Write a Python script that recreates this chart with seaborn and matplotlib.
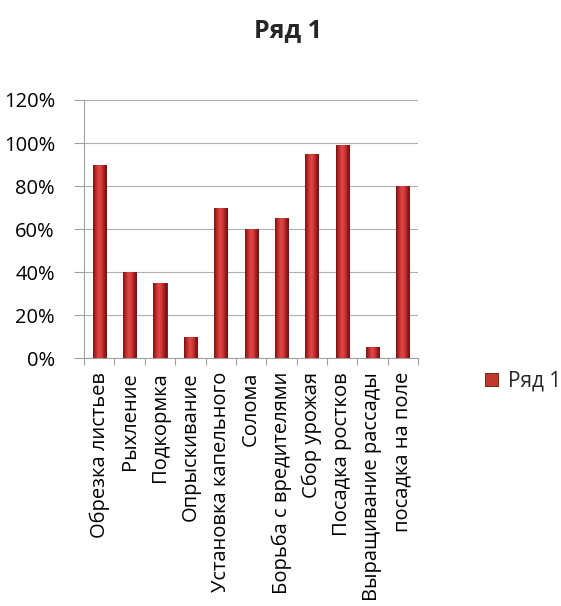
import numpy as np
import pandas as pd
import matplotlib
matplotlib.use("Agg")
import matplotlib.pyplot as plt
from matplotlib.colors import LinearSegmentedColormap
from matplotlib.ticker import PercentFormatter, FixedLocator
import seaborn as sns

categories = [
    "Обрезка листьев", "Рыхление", "Подкормка", "Опрыскивание",
    "Установка капельного", "Солома", "Борьба с вредителями",
    "Сбор урожая", "Посадка ростков", "Выращивание рассады",
    "посадка на поле",
]
values = [0.90, 0.40, 0.35, 0.10, 0.70, 0.60, 0.65, 0.95, 0.99, 0.05, 0.80]
series_name = "Ряд 1"
y_ticks = [0, 0.2, 0.4, 0.6, 0.8, 1.0, 1.2]

sns.set_theme(style="white")
plt.rcParams["font.family"] = ["Open Sans", "DejaVu Sans"]

df = pd.DataFrame({"task": categories, "share": values})

fig = plt.figure(figsize=(5.61, 6.06), dpi=100)
ax = fig.add_axes([0.150, 0.409, 0.595, 0.426])

sns.barplot(data=df, x="task", y="share", color="#c0392b", width=0.43,
            ax=ax, zorder=3, label=series_name)

# horizontal shading across each bar for a rounded, glossy look
cmap = LinearSegmentedColormap.from_list(
    "bar", ["#7a1414", "#b82a2a", "#e04848", "#d63a3a", "#a32020", "#6e1010"])
grad = np.linspace(0, 1, 64).reshape(1, -1)
for patch in ax.patches:
    x0, y0 = patch.get_x(), patch.get_y()
    w, h = patch.get_width(), patch.get_height()
    im = ax.imshow(grad, cmap=cmap, aspect="auto", zorder=4,
                   extent=[x0, x0 + w, y0, y0 + h], interpolation="bilinear")
    im.set_clip_path(patch)
    patch.set_edgecolor("#6e1010")
    patch.set_linewidth(0.6)

ax.set_xlim(-0.5, len(categories) - 0.5)
ax.set_ylim(0, 1.2)
ax.set_yticks(y_ticks)
ax.yaxis.set_major_formatter(PercentFormatter(1.0, decimals=0))
ax.tick_params(axis="y", labelsize=14.5, length=7, width=0.8, color="#a0a0a0",
               direction="out", left=True, pad=14, labelcolor="black")

ax.set_xticks(range(len(categories)))
ax.set_xticklabels(categories, rotation=90, fontsize=14.5, va="top", ha="center")
ax.tick_params(axis="x", which="major", length=0, pad=10, colors="black")
ax.xaxis.set_minor_locator(FixedLocator(np.arange(-0.5, len(categories), 1.0)))
ax.tick_params(axis="x", which="minor", length=5, width=0.8, color="#a0a0a0",
               direction="out", bottom=True)

ax.yaxis.grid(True, color="#b0b0b0", linewidth=0.8, zorder=0)
ax.set_axisbelow(True)
for side in ["top", "right"]:
    ax.spines[side].set_visible(False)
for side in ["left", "bottom"]:
    ax.spines[side].set_color("#a0a0a0")
    ax.spines[side].set_linewidth(0.8)
ax.set_xlabel("")
ax.set_ylabel("")

fig.text(0.513, 0.950, series_name, ha="center", va="center",
         fontsize=18, fontweight="bold")

leg = ax.legend(loc="center left", bbox_to_anchor=(1.177, -0.09), frameon=False,
                fontsize=15, handlelength=0.6, handleheight=0.6,
                handletextpad=0.5, borderaxespad=0)
for h in leg.legend_handles:
    h.set_facecolor("#c0392b")
    h.set_edgecolor("#6e1010")

fig.savefig("out.png", dpi=100)
